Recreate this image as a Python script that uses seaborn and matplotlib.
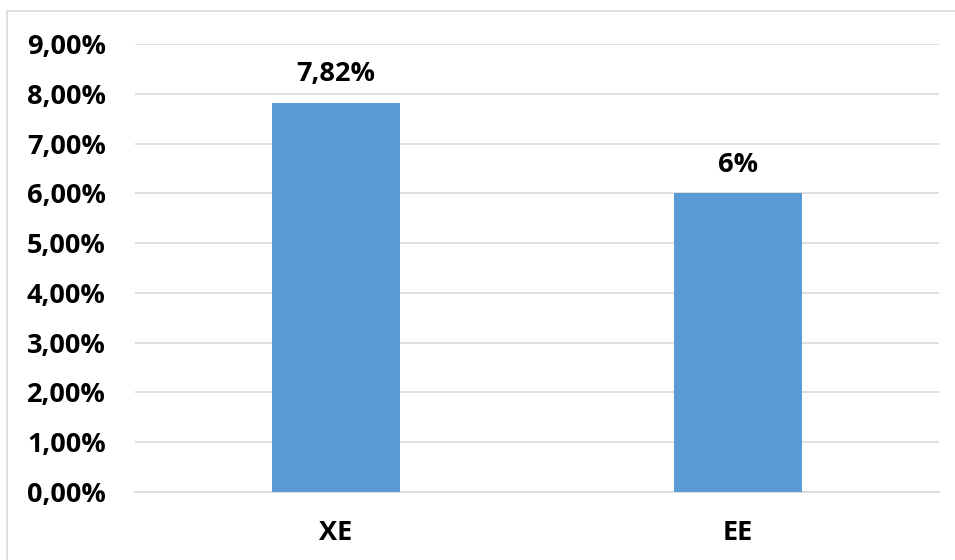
import matplotlib
matplotlib.use("Agg")
import matplotlib.pyplot as plt
import matplotlib.patches as mpatches
import numpy as np
import pandas as pd
import seaborn as sns
from matplotlib.ticker import FuncFormatter, MultipleLocator

categories = ["XE", "EE"]
values = [7.82, 6.0]
value_labels = ["7,82%", "6%"]

sns.set_theme(style="white")
plt.rcParams["font.family"] = ["Open Sans", "DejaVu Sans"]

df = pd.DataFrame({"group": categories, "value": values})

fig = plt.figure(figsize=(9.55, 5.6), dpi=100)
ax = fig.add_axes([135 / 955, 1 - 492 / 560, (939 - 135) / 955, (492 - 44) / 560])

# light frame around the chart area, like the spreadsheet export
fig.patches.append(
    mpatches.Rectangle(
        (7 / 955, -0.01), 1.0, 1 - 11 / 560 + 0.01,
        transform=fig.transFigure, fill=False, edgecolor="#D9D9D9", linewidth=1.2,
    )
)

sns.barplot(data=df, x="group", y="value", color="#5B9BD5", width=0.316,
            saturation=1, linewidth=0, edgecolor="none", ax=ax, zorder=3)

ax.set_ylim(0, 9)
ax.set_xlim(-0.5, 1.5)
ax.yaxis.set_major_locator(MultipleLocator(1))
ax.yaxis.set_major_formatter(FuncFormatter(lambda v, _: f"{v:.2f}%".replace(".", ",")))
ax.grid(axis="y", color="#D9D9D9", linewidth=1.2, zorder=0)
for side in ["top", "right", "left"]:
    ax.spines[side].set_visible(False)
ax.spines["bottom"].set_color("#D9D9D9")
ax.spines["bottom"].set_linewidth(1.2)

ax.set_xlabel("")
ax.set_ylabel("")
ax.tick_params(axis="y", length=0, pad=21, labelsize=19.5)
ax.tick_params(axis="x", length=0, pad=20, labelsize=19.5)
for lbl in ax.get_xticklabels() + ax.get_yticklabels():
    lbl.set_fontweight("bold")
    lbl.set_color("#000000")

ax.bar_label(ax.containers[0], labels=value_labels, padding=11,
             fontsize=19.5, fontweight="bold", color="#000000")

fig.savefig("out.png", dpi=100)
